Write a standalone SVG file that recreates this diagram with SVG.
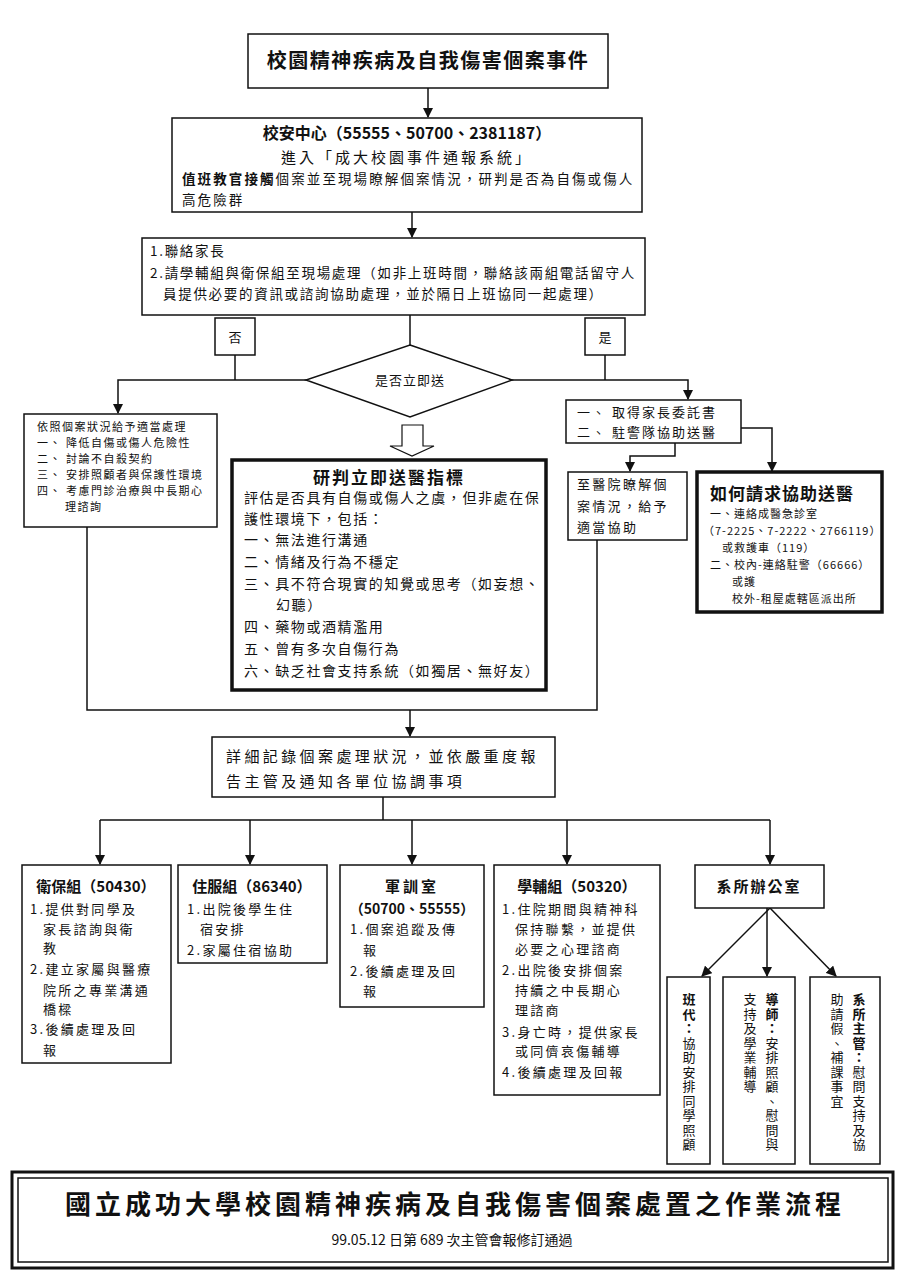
<svg xmlns="http://www.w3.org/2000/svg" width="912" height="1277" viewBox="0 0 912 1277">
<style>
text{font-family:"Noto Sans CJK TC","Noto Sans CJK SC",sans-serif;fill:#111}
.b{fill:#fff;stroke:#111;stroke-width:1.5}
.k{fill:#fff;stroke:#111;stroke-width:3.5}
.l{fill:none;stroke:#111;stroke-width:1.5}
.t{font-weight:bold}
.c{text-anchor:middle}
.v{writing-mode:vertical-rl;font-size:13px;letter-spacing:1.5px}
.s{font-size:13px;letter-spacing:2.3px}
</style>
<defs><marker id="a" viewBox="0 0 10 10" refX="9" refY="5" markerWidth="7" markerHeight="7" orient="auto"><path d="M0,0L10,5L0,10z" fill="#111"/></marker></defs>
<rect width="912" height="1277" fill="#fff"/>
<g id="connectors">
<path class="l" d="M428,88V117" marker-end="url(#a)"/>
<path class="l" d="M412,212V237" marker-end="url(#a)"/>
<path class="l" d="M410,315V345"/>
<path class="l" d="M310,380H118V413" marker-end="url(#a)"/>
<path class="l" d="M510,380H688V399" marker-end="url(#a)"/>
<path class="l" d="M235,355V380M605,355V380"/>
<polygon points="402,425 423,425 423,446 434,446 412,456 390,446 402,446" fill="#fff" stroke="#111" stroke-width="1.2"/>
<path class="l" d="M675,443V456H630V471" marker-end="url(#a)"/>
<path class="l" d="M741,428H772V471" marker-end="url(#a)"/>
<path class="l" d="M87,527V710H597V540"/>
<path class="l" d="M410,710V736" marker-end="url(#a)"/>
<path class="l" d="M383,797V820M100,820H770"/>
<path class="l" d="M100,820V864" marker-end="url(#a)"/>
<path class="l" d="M250,820V864" marker-end="url(#a)"/>
<path class="l" d="M412,820V864" marker-end="url(#a)"/>
<path class="l" d="M567,820V864" marker-end="url(#a)"/>
<path class="l" d="M770,820V864" marker-end="url(#a)"/>
<path class="l" d="M770,908L702,976" marker-end="url(#a)"/>
<path class="l" d="M767,908V976" marker-end="url(#a)"/>
<path class="l" d="M770,908L836,976" marker-end="url(#a)"/>
</g>
<g id="n1"><rect class="b" x="248" y="34" width="360" height="54" stroke-width="2"/><text class="t c" x="428" y="68" font-size="20" letter-spacing="1.5">校園精神疾病及自我傷害個案事件</text></g>
<g id="n2"><rect class="b" x="172" y="118" width="470" height="94"/>
<text class="t c" x="407" y="139" font-size="16">校安中心（55555、50700、2381187）</text>
<text class="c" x="407" y="163" font-size="15" letter-spacing="3">進入「成大校園事件通報系統」</text>
<text x="182" y="184" font-size="13.5" letter-spacing="2.1"><tspan font-weight="bold">值班教官接觸</tspan>個案並至現場瞭解個案情況，研判是否為自傷或傷人</text>
<text x="182" y="205" font-size="13.5" letter-spacing="2.1">高危險群</text></g>
<g id="n3"><rect class="b" x="142" y="238" width="503" height="77"/>
<g font-size="13.5" letter-spacing="1.7"><text x="150" y="256">1.聯絡家長</text>
<text x="150" y="278">2.請學輔組與衛保組至現場處理（如非上班時間，聯絡該兩組電話留守人</text>
<text x="163" y="299">員提供必要的資訊或諮詢協助處理，並於隔日上班協同一起處理）</text></g></g>
<g id="no"><rect class="b" x="215" y="318" width="40" height="37"/><text class="c" x="235" y="342" font-size="13">否</text></g>
<g id="yes"><rect class="b" x="585" y="318" width="40" height="37"/><text class="c" x="605" y="342" font-size="13">是</text></g>
<g id="dec"><polygon class="b" points="410,345 512,380 410,417 306,380"/><text class="c" x="410" y="385" font-size="13" letter-spacing="1">是否立即送</text></g>
<g id="left"><rect class="b" x="24" y="414" width="193" height="113"/>
<text font-size="11" letter-spacing="1.5"><tspan x="37" y="431">依照個案狀況給予適當處理</tspan><tspan x="37" y="447">一、 降低自傷或傷人危險性</tspan><tspan x="37" y="463">二、 討論不自殺契約</tspan><tspan x="37" y="479">三、 安排照顧者與保護性環境</tspan><tspan x="37" y="495">四、 考慮門診治療與中長期心</tspan><tspan x="65" y="511">理諮詢</tspan></text></g>
<g id="center"><rect class="k" x="232" y="460" width="314" height="230"/>
<text class="t c" x="389" y="484" font-size="17" letter-spacing="2">研判立即送醫指標</text>
<text font-size="14" letter-spacing="1.6"><tspan x="244" y="503">評估是否具有自傷或傷人之虞，但非處在保</tspan><tspan x="244" y="524">護性環境下，包括：</tspan><tspan x="244" y="545">一、無法進行溝通</tspan><tspan x="244" y="567">二、情緒及行為不穩定</tspan><tspan x="244" y="589">三、具不符合現實的知覺或思考（如妄想、</tspan><tspan x="276" y="610">幻聽）</tspan><tspan x="244" y="632">四、藥物或酒精濫用</tspan><tspan x="244" y="654">五、曾有多次自傷行為</tspan><tspan x="244" y="676">六、缺乏社會支持系統（如獨居、無好友）</tspan></text></g>
<g id="rtop"><rect class="b" x="566" y="400" width="175" height="43"/>
<text font-size="13" letter-spacing="2"><tspan x="577" y="417">一、 取得家長委託書</tspan><tspan x="577" y="437">二、 駐警隊協助送醫</tspan></text></g>
<g id="hosp"><rect class="b" x="568" y="472" width="119" height="68"/>
<text font-size="13" letter-spacing="2.3"><tspan x="577" y="489">至醫院瞭解個</tspan><tspan x="577" y="511">案情況，給予</tspan><tspan x="577" y="532">適當協助</tspan></text></g>
<g id="how"><rect class="k" x="697" y="472" width="185" height="140" stroke-width="3"/>
<text class="t" x="710" y="500" font-size="17" letter-spacing="1">如何請求協助送醫</text>
<text font-size="11" letter-spacing="1"><tspan x="710" y="518">一、連絡成醫急診室</tspan><tspan x="703" y="535">（7-2225、7-2222、2766119）</tspan><tspan x="722" y="552">或救護車（119）</tspan><tspan x="710" y="569">二、校內-連絡駐警（66666）</tspan><tspan x="732" y="586">或護</tspan><tspan x="732" y="603">校外-租屋處轄區派出所</tspan></text></g>
<g id="rec"><rect class="b" x="212" y="737" width="343" height="60"/>
<text font-size="15" letter-spacing="3.4"><tspan x="226" y="762">詳細記錄個案處理狀況，並依嚴重度報</tspan><tspan x="226" y="787">告主管及通知各單位協調事項</tspan></text></g>
<g id="wb"><rect class="b" x="22" y="865" width="149" height="198"/>
<text class="t c" x="96" y="892" font-size="15">衛保組（50430）</text>
<text class="s"><tspan x="30" y="914">1.提供對同學及</tspan><tspan x="43" y="934">家長諮詢與衛</tspan><tspan x="43" y="953">教</tspan><tspan x="30" y="974">2.建立家屬與醫療</tspan><tspan x="43" y="995">院所之專業溝通</tspan><tspan x="43" y="1014">橋樑</tspan><tspan x="30" y="1034">3.後續處理及回</tspan><tspan x="43" y="1055">報</tspan></text></g>
<g id="zf"><rect class="b" x="178" y="865" width="149" height="98"/>
<text class="t c" x="252" y="892" font-size="15">住服組（86340）</text>
<text class="s"><tspan x="187" y="914">1.出院後學生住</tspan><tspan x="200" y="934">宿安排</tspan><tspan x="187" y="955">2.家屬住宿協助</tspan></text></g>
<g id="jx"><rect class="b" x="340" y="865" width="144" height="142"/>
<text class="t c" x="412" y="892" font-size="15" letter-spacing="3">軍訓室</text>
<text class="t c" x="412" y="914" font-size="14">（50700、55555）</text>
<text class="s"><tspan x="350" y="934">1.個案追蹤及傳</tspan><tspan x="363" y="955">報</tspan><tspan x="350" y="976">2.後續處理及回</tspan><tspan x="363" y="996">報</tspan></text></g>
<g id="xf"><rect class="b" x="494" y="865" width="166" height="230"/>
<text class="t c" x="577" y="892" font-size="15">學輔組（50320）</text>
<text class="s"><tspan x="502" y="914">1.住院期間與精神科</tspan><tspan x="515" y="934">保持聯繫，並提供</tspan><tspan x="515" y="954">必要之心理諮商</tspan><tspan x="502" y="975">2.出院後安排個案</tspan><tspan x="515" y="995">持續之中長期心</tspan><tspan x="515" y="1015">理諮商</tspan><tspan x="502" y="1037">3.身亡時，提供家長</tspan><tspan x="515" y="1056">或同儕哀傷輔導</tspan><tspan x="502" y="1077">4.後續處理及回報</tspan></text></g>
<g id="dept"><rect class="b" x="695" y="865" width="129" height="43"/><text class="t c" x="759" y="892" font-size="15" letter-spacing="2">系所辦公室</text></g>
<g id="s1"><rect class="b" x="667" y="977" width="43" height="187"/><text class="v" x="689" y="993"><tspan font-weight="bold">班代：</tspan>協助安排同學照顧</text></g>
<g id="s2"><rect class="b" x="723" y="977" width="72" height="187"/><text class="v" x="772" y="993"><tspan font-weight="bold">導師：</tspan>安排照顧、慰問與</text><text class="v" x="750" y="993">支持及學業輔導</text></g>
<g id="s3"><rect class="b" x="810" y="977" width="70" height="187"/><text class="v" x="859" y="993"><tspan font-weight="bold">系所主管：</tspan>慰問支持及協</text><text class="v" x="837" y="993">助請假、補課事宜</text></g>
<g id="footer"><rect x="12" y="1172" width="881" height="96" fill="#fff" stroke="#111" stroke-width="3"/><rect x="18" y="1178" width="870" height="84" fill="none" stroke="#111" stroke-width="1.5"/>
<text class="t c" x="455" y="1214" font-size="26" letter-spacing="4">國立成功大學校園精神疾病及自我傷害個案處置之作業流程</text>
<text class="c" x="452" y="1245" font-size="14">99.05.12 日第 689 次主管會報修訂通過</text></g>
</svg>
